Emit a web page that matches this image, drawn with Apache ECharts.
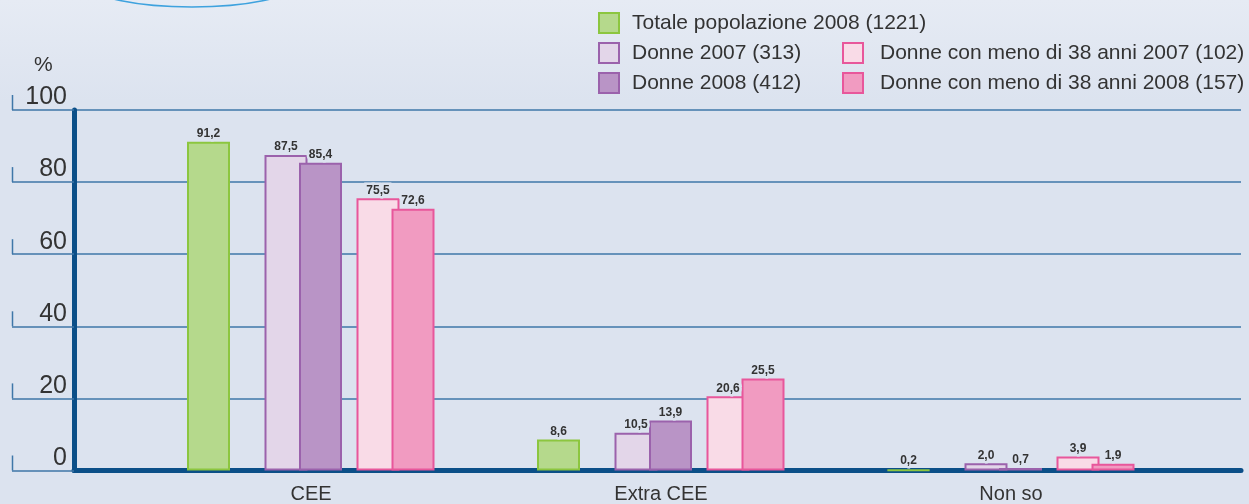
<!DOCTYPE html>
<html>
<head>
<meta charset="utf-8">
<script src="https://cdn.jsdelivr.net/npm/echarts@6/dist/echarts.min.js"></script>
<style>
	html, body { margin: 0; padding: 0; }
	#chart { width: 1249px; height: 504px; }
</style>
</head>
<body>
<div id="chart"></div>
<script>
// dati
const categories = ['CEE', 'Extra CEE', 'Non so'];
const totale2008 = [91.2, 8.6, 0.2];
const donne2007 = [87.5, 10.5, 2.0];
const donne2008 = [85.4, 13.9, 0.7];
const under38_2007 = [75.5, 20.6, 3.9];
const under38_2008 = [72.6, 25.5, 1.9];
const yTicks = [0, 20, 40, 60, 80, 100];

const FONT = "'Liberation Sans', Arial, sans-serif";
const BG = '#dce3ef';
const GRIDLINE = '#3f77a8';
const AXIS = '#0b4f88';

// ogni serie ha la sua griglia, spostata per avere gli stessi gap del grafico
const seriesDefs = [
	{ name: 'Totale popolazione 2008 (1221)', data: totale2008, fill: '#b5d98c', stroke: '#8cc63f', left: 33.5 },
	{ name: 'Donne 2007 (313)', data: donne2007, fill: '#e3d6e9', stroke: '#9b62ac', left: 111 },
	{ name: 'Donne 2008 (412)', data: donne2008, fill: '#b994c6', stroke: '#9b62ac', left: 145.5 },
	{ name: 'Donne con meno di 38 anni 2007 (102)', data: under38_2007, fill: '#f9dbe7', stroke: '#e8579b', left: 203 },
	{ name: 'Donne con meno di 38 anni 2008 (157)', data: under38_2008, fill: '#f19bc1', stroke: '#e8579b', left: 238 },
];

const TOP = 110;
const BOTTOM = 33.5;
const FRAME_LEFT = 74;
const TICK_LEN = 62;
const grids = [
	{ left: FRAME_LEFT, right: 8, top: TOP, bottom: BOTTOM, outerBoundsMode: 'none' }, // cornice
	{ left: 136, width: 1050, top: TOP, bottom: BOTTOM, outerBoundsMode: 'none' }, // etichette categorie
];
const xAxes = [
	{
		gridIndex: 0, type: 'category', data: categories,
		axisLine: { lineStyle: { color: AXIS, width: 5 } },
		axisTick: { show: false }, axisLabel: { show: false },
	},
	{
		gridIndex: 1, type: 'category', data: categories,
		axisLine: { show: false }, axisTick: { show: false },
		axisLabel: { margin: 14, fontSize: 20, color: '#333', fontFamily: FONT },
	},
];
const yAxes = [
	{
		gridIndex: 0, type: 'value', min: 0, max: 100, interval: 20,
		axisLine: { show: true, lineStyle: { color: AXIS, width: 5 } },
		axisTick: { show: true, length: TICK_LEN, lineStyle: { color: GRIDLINE, width: 1.5 } },
		axisLabel: { margin: 7, fontSize: 25, color: '#333', fontFamily: FONT, verticalAlign: 'bottom' },
		splitLine: { lineStyle: { color: GRIDLINE, width: 1.5 } },
	},
	{ gridIndex: 1, type: 'value', min: 0, max: 100, show: false },
];
const series = [];

seriesDefs.forEach((s, i) => {
	const gi = i + 2;
	grids.push({ left: s.left, width: 1050, top: TOP, bottom: BOTTOM, outerBoundsMode: 'none' });
	xAxes.push({ gridIndex: gi, type: 'category', data: categories, show: false });
	yAxes.push({ gridIndex: gi, type: 'value', min: 0, max: 100, show: false });
	series.push({
		name: s.name,
		type: 'bar',
		xAxisIndex: gi,
		yAxisIndex: gi,
		data: s.data,
		barWidth: 43,
		itemStyle: { color: s.fill, borderColor: s.stroke, borderWidth: 2 },
		label: {
			show: true,
			position: 'top',
			distance: 2,
			fontSize: 12,
			fontWeight: 'bold',
			color: '#333',
			fontFamily: FONT,
			textBorderColor: BG,
			textBorderWidth: 5,
			formatter: (p) => p.value.toFixed(1).replace('.', ','),
		},
	});
});

const legendBase = {
	icon: 'rect', itemWidth: 20, itemHeight: 20, itemGap: 8, orient: 'vertical',
	padding: 0, selectedMode: false,
	textStyle: { fontSize: 21, lineHeight: 20, color: '#333', fontFamily: FONT, padding: [0, 0, 0, 8] },
};

const chart = echarts.init(document.getElementById('chart'));
chart.setOption({
	backgroundColor: {
		type: 'linear', x: 0, y: 0, x2: 0, y2: 1,
		colorStops: [
			{ offset: 0, color: '#e6ebf4' },
			{ offset: 0.2, color: BG },
			{ offset: 1, color: BG },
		],
	},
	animation: false,
	title: {
		text: '%', left: 29, top: 50,
		textStyle: { fontSize: 21, fontWeight: 'normal', color: '#333', fontFamily: FONT },
	},
	legend: [
		Object.assign({}, legendBase, { left: 598, top: 12, data: [seriesDefs[0].name] }),
		Object.assign({}, legendBase, { left: 598, top: 42, data: [seriesDefs[1].name, seriesDefs[2].name] }),
		Object.assign({}, legendBase, {
			left: 842, top: 42, data: [seriesDefs[3].name, seriesDefs[4].name],
			textStyle: Object.assign({}, legendBase.textStyle, { padding: [0, 0, 0, 12] }),
		}),
	],
	grid: grids,
	xAxis: xAxes,
	yAxis: yAxes,
	series: series,
});

// piccoli tratti verticali a sinistra di ogni tacca + ovale decorativo in alto
const graphics = [{
	type: 'ellipse',
	shape: { cx: 192, cy: -14, rx: 100, ry: 21 },
	style: { fill: 'none', stroke: '#3ea2de', lineWidth: 1.5 },
}];
const tx = FRAME_LEFT - TICK_LEN + 0.5;
yTicks.forEach((v) => {
	const y = chart.convertToPixel({ yAxisIndex: 0 }, v);
	graphics.push({
		type: 'line',
		shape: { x1: tx, y1: y - 15, x2: tx, y2: y },
		style: { stroke: GRIDLINE, lineWidth: 1.5 },
	});
});
chart.setOption({ graphic: graphics });
</script>
</body>
</html>
